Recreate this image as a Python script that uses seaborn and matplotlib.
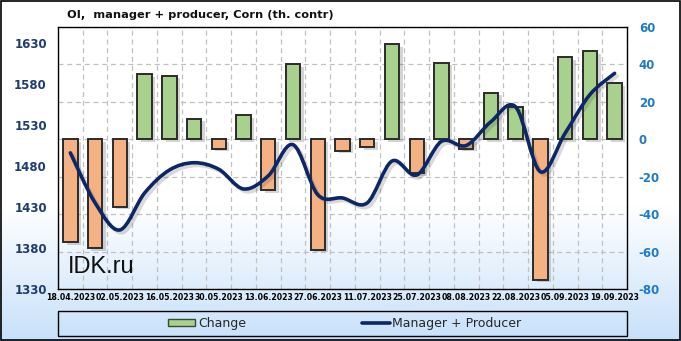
import numpy as np
import pandas as pd
import matplotlib
matplotlib.use("Agg")
import matplotlib.pyplot as plt
import matplotlib.patheffects as pe
import seaborn as sns
from matplotlib.path import Path
from matplotlib.patches import PathPatch, Rectangle
from matplotlib.lines import Line2D

# ---------------- data ----------------
dates = ["18.04.2023", "25.04.2023", "02.05.2023", "09.05.2023", "16.05.2023",
         "23.05.2023", "30.05.2023", "06.06.2023", "13.06.2023", "20.06.2023",
         "27.06.2023", "04.07.2023", "11.07.2023", "18.07.2023", "25.07.2023",
         "01.08.2023", "08.08.2023", "15.08.2023", "22.08.2023", "29.08.2023",
         "05.09.2023", "12.09.2023", "19.09.2023"]
change = [-55, -58, -36, 35, 34, 11, -5, 13, -27, 40, -59, -6, -4, 51, -18,
          41, -5, 25, 17, -75, 44, 47, 30]
manager_producer = [1496, 1435, 1402, 1447, 1475, 1484, 1476, 1452, 1468, 1506,
                    1445, 1441, 1435, 1486, 1469, 1510, 1505, 1534, 1552, 1473,
                    1520, 1567, 1593]
left_ticks = [1330, 1380, 1430, 1480, 1530, 1580, 1630]
right_ticks = [-80, -60, -40, -20, 0, 20, 40, 60]

title = "OI,  manager + producer, Corn (th. contr)"

# ---------------- style ----------------
sns.set_theme(style="white")
plt.rcParams["font.family"] = ["DejaVu Sans"]

W, H = 681, 341
fig = plt.figure(figsize=(W / 100, H / 100), dpi=100)

# background gradient
bg = fig.add_axes([0, 0, 1, 1], zorder=-10)
grad = np.ones((H, 1, 3))
ys = np.arange(H)
t = np.clip((ys - 205) / (H - 205), 0, 1)
top = np.array([1.0, 1.0, 1.0])
bot = np.array([0.78, 0.88, 0.98])
grad[:, 0, :] = top[None, :] * (1 - t[:, None]) + bot[None, :] * t[:, None]
bg.imshow(grad, aspect="auto", extent=[0, 1, 0, 1], origin="upper")
bg.set_xlim(0, 1)
bg.set_ylim(0, 1)
bg.axis("off")
bg.add_patch(Rectangle((0.0008, 0.0015), 0.9984, 0.997, fill=False,
                       edgecolor="black", linewidth=1.2, transform=bg.transAxes))
# legend box
lx0, lx1 = 58 / W, 627 / W
ly0, ly1 = 1 - 336 / H, 1 - 311 / H
bg.add_patch(Rectangle((lx0, ly0), lx1 - lx0, ly1 - ly0, fill=False,
                       edgecolor="black", linewidth=1.0, transform=bg.transAxes))

left, right, bottom, topp = 58 / W, 627 / W, 1 - 289 / H, 1 - 27 / H
ax = fig.add_axes([left, bottom, right - left, topp - bottom])
ax.set_facecolor("none")

df = pd.DataFrame({"date": dates, "change": change, "mp": manager_producer})
df["sign"] = np.where(df["change"] >= 0, "pos", "neg")

sns.barplot(data=df, x="date", y="change", hue="sign", order=dates,
            palette={"pos": "#A9D18E", "neg": "#F4B183"}, dodge=False,
            saturation=1, width=0.58, edgecolor="#2b2b2b", linewidth=1.4,
            legend=False, ax=ax, zorder=3)
for p in ax.patches:
    p.set_path_effects([pe.SimplePatchShadow(offset=(2.5, -2), alpha=0.25,
                                             shadow_rgbFace="#555555"),
                        pe.Normal()])

# line on twin axis
ax2 = ax.twinx()

ax.set_ylim(-80, 60)
ax.set_xlim(-0.5, len(dates) - 0.5)
ax.set_yticks(right_ticks)
ax.set_yticklabels([str(v) for v in right_ticks], color="#1F7BC6",
                   fontweight="bold", fontsize=8.5)
ax.set_xticks(range(0, len(dates), 2))
ax.set_xticklabels(dates[::2], fontsize=5.6, fontweight="bold", color="black")
ax.set_xticks(np.arange(-0.5, len(dates), 1), minor=True)
ax.tick_params(axis="both", which="both", length=0)
ax.tick_params(axis="x", pad=3)
ax.grid(False)
ax.xaxis.grid(True, which="minor", linestyle=(0, (4, 3)), color="#c0c0c0",
              linewidth=0.9)
ax.yaxis.grid(True, which="major", linestyle=(0, (4, 3)), color="#c0c0c0",
              linewidth=0.9)
ax.set_axisbelow(True)
ax.set_xlabel("")
ax.set_ylabel("")
for s in ax.spines.values():
    s.set_visible(True)
    s.set_color("black")
    s.set_linewidth(1.0)
ax.yaxis.tick_right()
ax.yaxis.set_label_position("right")
ax.tick_params(axis="y", which="both", length=0, pad=8.5,
               labelleft=False, labelright=True)

ax2.set_ylim(1330, 1330 + 262 / 41 * 50)
ax2.yaxis.tick_left()
ax2.yaxis.set_label_position("left")
ax2.set_yticks(left_ticks)
ax2.set_yticklabels([str(v) for v in left_ticks], color="#1F3B73",
                    fontweight="bold", fontsize=8.5)
ax2.tick_params(axis="y", length=0, pad=8, labelleft=True, labelright=False)
for s in ax2.spines.values():
    s.set_visible(False)

# smooth curve through the data points (Catmull-Rom -> cubic Bezier)
xs = np.arange(len(manager_producer), dtype=float)
yv = np.array(manager_producer, dtype=float)
pts = np.column_stack([xs, yv])
verts = [tuple(pts[0])]
codes = [Path.MOVETO]
n = len(pts)
for i in range(n - 1):
    p0 = pts[i - 1] if i > 0 else pts[i]
    p1 = pts[i]
    p2 = pts[i + 1]
    p3 = pts[i + 2] if i + 2 < n else pts[i + 1]
    c1 = p1 + (p2 - p0) / 6.0
    c2 = p2 - (p3 - p1) / 6.0
    verts += [tuple(c1), tuple(c2), tuple(p2)]
    codes += [Path.CURVE4, Path.CURVE4, Path.CURVE4]
path = Path(verts, codes)
line = PathPatch(path, facecolor="none", edgecolor="#0D2666",
                 linewidth=2.6, capstyle="round", joinstyle="round", zorder=5)
line.set_path_effects([pe.SimpleLineShadow(offset=(2, -2), alpha=0.2,
                                           shadow_color="#444444"),
                       pe.Normal()])
ax2.add_patch(line)

# watermark
ax.text(0.0176, 0.084, "IDK.ru", transform=ax.transAxes, fontsize=17,
        family=["Liberation Sans", "DejaVu Sans"], color="#111111",
        va="center", ha="left", zorder=6)

# title
fig.text(200 / W, 1 - 15 / H, title, ha="center", va="center",
         fontsize=8.2, fontweight="bold", color="#111111")

# legend
handles = [Rectangle((0, 0), 1, 1, facecolor="#A9D18E", edgecolor="#3a4a30",
                     linewidth=1.0),
           Line2D([0], [0], color="#0D2666", linewidth=2.6)]
fig.legend(handles, ["Change", "Manager + Producer"], loc="center",
           bbox_to_anchor=((lx0 + lx1) / 2 + 2 / W, (ly0 + ly1) / 2),
           ncol=2, frameon=False, fontsize=9, handlelength=2.2,
           handleheight=0.5, handletextpad=0.2, columnspacing=9.3,
           borderpad=0.0)

fig.savefig("out.png", dpi=100)
